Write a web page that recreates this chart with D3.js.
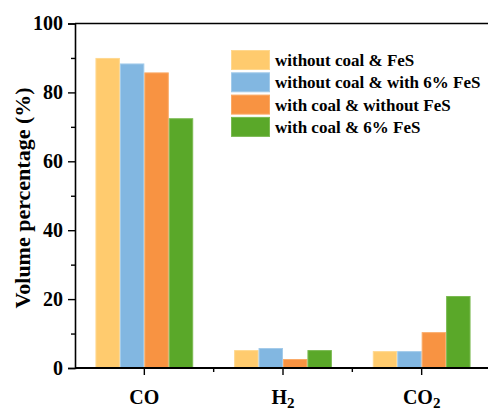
<!DOCTYPE html>
<html>
<head>
<meta charset="utf-8">
<script src="https://cdn.jsdelivr.net/npm/d3@7"></script>
<style>
  html, body { margin: 0; padding: 0; background: #fff; }
  svg { display: block; }
  text { font-family: "Liberation Serif", "Times New Roman", serif; font-weight: bold; fill: #000; }
</style>
</head>
<body>
<svg id="chart" width="488" height="409"></svg>
<script>
// Gas composition by condition
const categories = ["CO", "H2", "CO2"];
const seriesNames = [
  "without coal & FeS",
  "without coal & with 6% FeS",
  "with coal & without FeS",
  "with coal & 6% FeS"
];
const withoutCoalFeS      = [90.0, 5.2, 4.9];
const withoutCoalWith6FeS = [88.4, 5.8, 4.9];
const withCoalWithoutFeS  = [85.8, 2.6, 10.4];
const withCoal6FeS        = [72.5, 5.2, 20.9];
const seriesValues = [withoutCoalFeS, withoutCoalWith6FeS, withCoalWithoutFeS, withCoal6FeS];
const colors = ["#FFCB6E", "#82B7E1", "#F89342", "#5AA829"];
const strokes = ["#FFD88F", "#A3CBEA", "#FAAA66", "#7BBA52"];
const yTicks = [0, 20, 40, 60, 80, 100];

const svg = d3.select("#chart");
const plotLeft = 75, plotTop = 23.5, plotBottom = 368, plotRight = 491;

const x = d3.scaleBand().domain(categories).range([plotLeft, plotRight]).paddingInner(0).paddingOuter(0);
const groupW = x.bandwidth() * 0.705;
const xs = d3.scaleBand().domain(d3.range(seriesNames.length)).range([0, groupW]).padding(0);
const y = d3.scaleLinear().domain([0, 100]).range([plotBottom, plotTop]);

// bars
const g = svg.append("g");
categories.forEach((c, ci) => {
  const gx = x(c) + (x.bandwidth() - groupW) / 2;
  seriesValues.forEach((vals, si) => {
    g.append("rect")
      .attr("x", gx + xs(si) + 0.5)
      .attr("y", y(vals[ci]) + 0.5)
      .attr("width", xs.bandwidth() - 1)
      .attr("height", y(0) - y(vals[ci]) - 0.5)
      .attr("fill", colors[si])
      .attr("stroke", strokes[si])
      .attr("stroke-width", 1);
  });
});

// top frame line
svg.append("line").attr("x1", plotLeft).attr("x2", 488).attr("y1", plotTop).attr("y2", plotTop)
  .attr("stroke", "#000").attr("stroke-width", 1.6);

// y axis
const yAxis = d3.axisLeft(y).tickValues(yTicks).tickSize(7).tickPadding(5).tickFormat(d3.format("d"));
const ya = svg.append("g").attr("transform", `translate(${plotLeft},0)`).call(yAxis);
ya.attr("font-family", null).attr("font-size", null);
ya.select(".domain").attr("stroke-width", 1.6);
ya.selectAll(".tick line").attr("stroke-width", 1.4);
ya.selectAll("text").style("font-size", "20px");
const yMinor = d3.axisLeft(y).tickValues([10, 30, 50, 70, 90]).tickSize(4).tickFormat("");
const ym = svg.append("g").attr("transform", `translate(${plotLeft},0)`).call(yMinor);
ym.select(".domain").remove();
ym.selectAll(".tick line").attr("stroke-width", 1.4);

// x axis
const xAxis = d3.axisBottom(x).tickSize(7).tickPadding(8).tickFormat(() => "");
const xa = svg.append("g").attr("transform", `translate(0,${plotBottom})`).call(xAxis);
xa.select(".domain").attr("stroke-width", 2.2).attr("d", `M${plotLeft},0H${plotRight}`);
xa.selectAll(".tick line").attr("stroke-width", 1.4);
const xMinor = categories.slice(1).map(c => x(c));
xa.selectAll(".minor").data(xMinor).enter().append("line")
  .attr("x1", d => d).attr("x2", d => d).attr("y1", 0).attr("y2", 4)
  .attr("stroke", "#000").attr("stroke-width", 1.4);

// category labels with subscripts
const labelParts = { "CO": ["CO", ""], "H2": ["H", "2"], "CO2": ["CO", "2"] };
categories.forEach(c => {
  const t = svg.append("text")
    .attr("x", x(c) + x.bandwidth() / 2)
    .attr("y", 404)
    .attr("text-anchor", "middle")
    .style("font-size", "20px");
  t.append("tspan").text(labelParts[c][0]);
  if (labelParts[c][1]) {
    t.append("tspan").attr("dy", 4).style("font-size", "15px").text(labelParts[c][1]);
  }
});

// y axis title
svg.append("text")
  .attr("transform", `translate(30,198) rotate(-90)`)
  .attr("text-anchor", "middle")
  .style("font-size", "22px")
  .text("Volume percentage (%)");

// legend
const lg = svg.append("g");
seriesNames.forEach((name, i) => {
  const ly = 50 + i * 22.3;
  lg.append("rect").attr("x", 231.5).attr("y", ly + 0.5).attr("width", 38).attr("height", 19)
    .attr("fill", colors[i]).attr("stroke", strokes[i]).attr("stroke-width", 1);
  lg.append("text").attr("x", 275).attr("y", ly + 16).style("font-size", "17px").text(name);
});
</script>
</body>
</html>
